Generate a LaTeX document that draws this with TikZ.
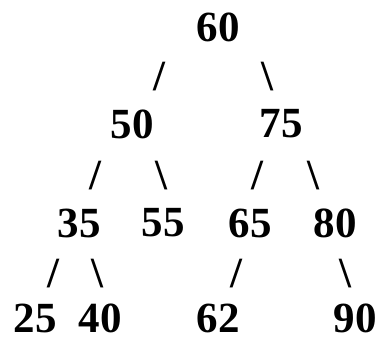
\documentclass[tikz,border=0pt]{standalone}
\usepackage{fontspec}
\setmainfont{Liberation Serif}
\begin{document}
\begin{tikzpicture}[
        x=1pt, y=-1pt,
        font=\fontsize{43}{43}\selectfont\bfseries,
        key/.style={inner sep=0pt, text=black},
        edge/.style={inner sep=0pt, text=black}
    ]
    \useasboundingbox (0,0) rectangle (380,339);
    % Raiz
    \node[key] (n60) at (218, 27) {60};
    \node[edge] (e60l) at (159, 77) {/};
    \node[edge] (e60r) at (267, 77) {\textbackslash};
    % Nivel 1
    \node[key] (n50) at (132, 124) {50};
    \node[key] (n75) at (281, 124) {75};
    \node[edge] (e50l) at (95, 176) {/};
    \node[edge] (e50r) at (161, 176) {\textbackslash};
    \node[edge] (e75l) at (257, 176) {/};
    \node[edge] (e75r) at (313, 176) {\textbackslash};
    % Nivel 2
    \node[key] (n35) at (79, 223) {35};
    \node[key] (n55) at (163, 223) {55};
    \node[key] (n65) at (250, 223) {65};
    \node[key] (n80) at (335, 223) {80};
    \node[edge] (e35l) at (53, 274) {/};
    \node[edge] (e35r) at (97, 274) {\textbackslash};
    \node[edge] (e65l) at (236, 274) {/};
    \node[edge] (e80r) at (345, 274) {\textbackslash};
    % Hojas
    \node[key] (n25) at (35, 318) {25};
    \node[key] (n40) at (100, 318) {40};
    \node[key] (n62) at (218, 318) {62};
    \node[key] (n90) at (355, 318) {90};
\end{tikzpicture}
\end{document}
